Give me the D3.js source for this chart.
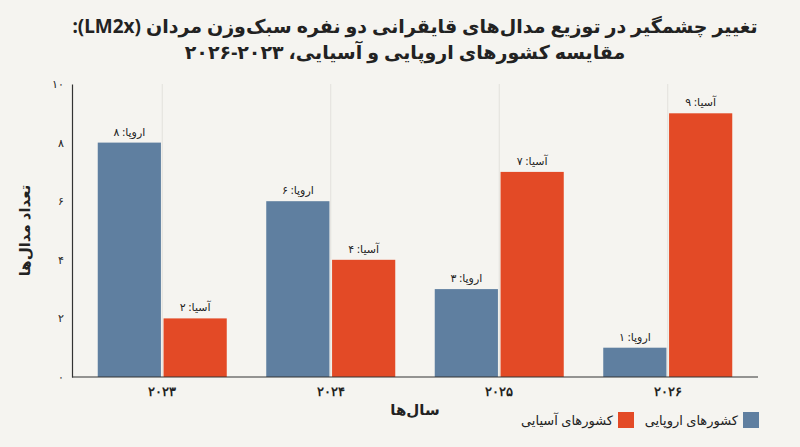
<!DOCTYPE html>
<html><head><meta charset="utf-8">
<script src="https://cdn.jsdelivr.net/npm/d3@7"></script>
<style>body{margin:0;background:#f5f4f0;}svg{display:block;font-family:"Noto Sans","DejaVu Sans",sans-serif;}</style>
</head><body><svg id="c" width="800" height="447"></svg>
<script>
const years = ["2023","2024","2025","2026"];
const yearLabels = ["۲۰۲۳","۲۰۲۴","۲۰۲۵","۲۰۲۶"];
const europe = [8,6,3,1];
const asia = [2,4,7,9];
const yTicks = [0,2,4,6,8,10];
const yTickLabels = ["۰","۲","۴","۶","۸","۱۰"];
const fa = n => String(n).replace(/\d/g,d=>"۰۱۲۳۴۵۶۷۸۹"[d]);

const svg = d3.select("#c");
const m = {l:72,r:42,t:84,b:70};
const W=800,H=447;
const x = d3.scaleBand().domain(years).range([78,752]).paddingInner(0).paddingOuter(0);
const y = d3.scaleLinear().domain([0,10]).range([H-m.b,m.t]);
const inner = d3.scaleBand().domain(["eu","as"]).range([0,x.bandwidth()]).paddingInner(0.04).paddingOuter(0.3);
const col = {eu:"#5f7fa0", as:"#e34a26"};

svg.append("g").selectAll("line").data(years).join("line")
  .attr("x1",d=>x(d)+x.bandwidth()/2).attr("x2",d=>x(d)+x.bandwidth()/2)
  .attr("y1",y(0)).attr("y2",y(10)).attr("stroke","#e2e1dc").attr("stroke-width",1);

const series = [["eu",europe,"اروپا"],["as",asia,"آسیا"]];
series.forEach(([k,vals,name])=>{
  const g = svg.append("g");
  g.selectAll("rect").data(years).join("rect")
    .attr("x",d=>x(d)+inner(k)).attr("width",inner.bandwidth())
    .attr("y",(d,i)=>y(vals[i])).attr("height",(d,i)=>y(0)-y(vals[i]))
    .attr("fill",col[k]);
  g.selectAll("text").data(years).join("text")
    .attr("x",d=>x(d)+inner(k)+inner.bandwidth()/2).attr("y",(d,i)=>y(vals[i])-7)
    .attr("text-anchor","middle").attr("font-size",11).attr("fill","#222")
    .text((d,i)=>name+": "+fa(vals[i]));
});

const ax = svg.append("g").attr("transform",`translate(0,${y(0)})`)
  .call(d3.axisBottom(x).tickFormat((d,i)=>yearLabels[i]).tickSize(0).tickPadding(10));
ax.select(".domain").attr("d",`M72,0H758`).attr("stroke","#333").attr("stroke-width",1.2);
ax.selectAll("text").attr("font-size",13).attr("font-weight","bold").attr("fill","#222");

const ay = svg.append("g").attr("transform",`translate(72,0)`)
  .call(d3.axisLeft(y).tickValues(yTicks).tickFormat((d,i)=>yTickLabels[i]).tickSize(0).tickPadding(8));
ay.select(".domain").attr("stroke","#333").attr("stroke-width",1.2);
ay.selectAll("text").attr("font-size",11).attr("fill","#222");

svg.append("text").attr("x",415).attr("y",415).attr("text-anchor","middle")
  .attr("font-size",15).attr("font-weight","bold").attr("fill","#222").text("سال‌ها");
svg.append("text").attr("transform",`translate(30,${(y(0)+y(10))/2}) rotate(-90)`)
  .attr("text-anchor","middle").attr("font-size",15).attr("font-weight","bold").attr("fill","#222").text("تعداد مدال‌ها");

svg.append("text").attr("x",415).attr("y",33).attr("text-anchor","middle").attr("direction","rtl")
  .attr("font-size",19).attr("font-weight","bold").attr("fill","#222").text("تغییر چشمگیر در توزیع مدال‌های قایقرانی دو نفره سبک‌وزن مردان (LM2x):");
svg.append("text").attr("x",405).attr("y",59).attr("text-anchor","middle").attr("direction","rtl")
  .attr("font-size",19).attr("font-weight","bold").attr("fill","#222").text("مقایسه کشورهای اروپایی و آسیایی، ۲۰۲۳-۲۰۲۶");

const legend = [["eu","کشورهای اروپایی",759],["as","کشورهای آسیایی",634]];
legend.forEach(([k,t,xr])=>{
  svg.append("rect").attr("x",xr-16).attr("y",412).attr("width",16).attr("height",16).attr("fill",col[k]);
  svg.append("text").attr("x",xr-21).attr("y",425).attr("text-anchor","start").attr("direction","rtl")
    .attr("font-size",13).attr("fill","#222").text(t);
});
</script></body></html>
